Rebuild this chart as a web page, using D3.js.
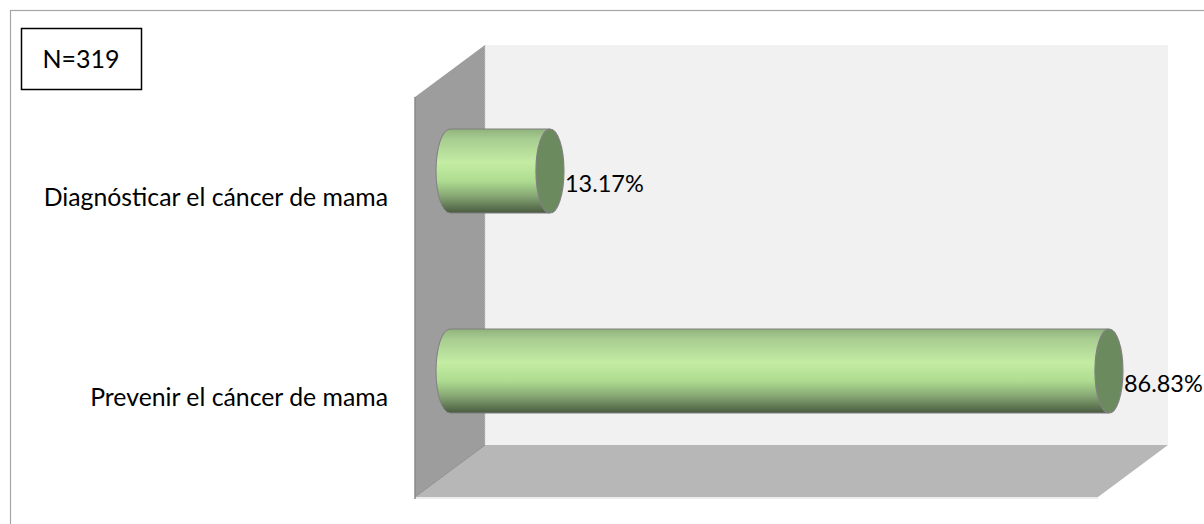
<!DOCTYPE html>
<meta charset="utf-8">
<html>
<head>
<style>
body {
  margin: 0;
  background: #fff;
  font-family: Lato, "Open Sans", sans-serif;
}
</style>
</head>
<body>
<div id="my_dataviz"></div>

<script src="https://d3js.org/d3.v7.min.js"></script>
<script>

// data
var categories = ["Diagnósticar el cáncer de mama", "Prevenir el cáncer de mama"];
var values = [13.17, 86.83];
var valueLabels = ["13.17%", "86.83%"];
var sampleLabel = "N=319";

var W = 1204, H = 524;
// 3d depth of the plot box (back is up-right)
var depthX = 70, depthY = 52;

var svg = d3.select("#my_dataviz")
  .append("svg")
    .attr("width", W)
    .attr("height", H);

// outer chart border (runs off the right / bottom)
svg.append("rect")
  .attr("x", 10.5).attr("y", 10.5)
  .attr("width", W).attr("height", H)
  .attr("fill", "none")
  .attr("stroke", "#a6a6a6")
  .attr("stroke-width", 1.2);

// scales at mid depth
var x = d3.scaleLinear()
  .domain([0, 90])
  .range([450, 1133]);

var y = d3.scaleBand()
  .domain(categories)
  .range([71, 471])
  .paddingInner(0.58)
  .paddingOuter(0.29);

var x0 = x(0), x1 = x(90);
var yTop = y.range()[0], yBot = y.range()[1];
var hx = depthX / 2, hy = depthY / 2;

// walls
var pts = function(a) { return a.map(function(p) { return p.join(","); }).join(" "); };

// back wall
svg.append("polygon")
  .attr("points", pts([[x0 + hx, yTop - hy], [x1 + hx, yTop - hy], [x1 + hx, yBot - hy], [x0 + hx, yBot - hy]]))
  .attr("fill", "#f1f1f1");

// floor
svg.append("polygon")
  .attr("points", pts([[x0 - hx, yBot + hy], [x0 + hx, yBot - hy], [x1 + hx, yBot - hy], [x1 - hx, yBot + hy]]))
  .attr("fill", "#b7b7b7");

svg.append("line")
  .attr("x1", x0 - hx).attr("x2", x1 - hx)
  .attr("y1", yBot + hy + 1).attr("y2", yBot + hy + 1)
  .attr("stroke", "#e6e6e6")
  .attr("stroke-width", 1.5);

// side wall
svg.append("polygon")
  .attr("points", pts([[x0 - hx, yTop + hy], [x0 + hx, yTop - hy], [x0 + hx, yBot - hy], [x0 - hx, yBot + hy]]))
  .attr("fill", "#9d9d9d");

svg.append("line")
  .attr("x1", x0 - hx).attr("x2", x0 - hx)
  .attr("y1", yTop + hy).attr("y2", yBot + hy + 2)
  .attr("stroke", "#8a8a8a")
  .attr("stroke-width", 1.5);

svg.append("line")
  .attr("x1", x0 + hx).attr("x2", x0 + hx)
  .attr("y1", yTop - hy).attr("y2", yBot - hy)
  .attr("stroke", "#c8c8c8")
  .attr("stroke-dasharray", "1,1")
  .attr("stroke-width", 1);

svg.append("line")
  .attr("x1", x0 - hx).attr("x2", x0 + hx)
  .attr("y1", yBot + hy).attr("y2", yBot - hy)
  .attr("stroke", "#8f8f8f")
  .attr("stroke-width", 1);

// gradient for the cylinders
var defs = svg.append("defs");
var grad = defs.append("linearGradient")
  .attr("id", "cyl")
  .attr("x1", 0).attr("y1", 0).attr("x2", 0).attr("y2", 1);
[[0, "#8fb27c"], [0.12, "#a8cd91"], [0.4, "#c4eca3"], [0.62, "#addc90"],
 [0.8, "#86a674"], [0.93, "#5e7651"], [1, "#4a5a41"]].forEach(function(s) {
  grad.append("stop").attr("offset", s[0]).attr("stop-color", s[1]);
});

var rx = 14;
var ry = y.bandwidth() / 2;

var bars = svg.selectAll(".bar")
  .data(categories)
  .enter()
  .append("g")
    .attr("class", "bar");

// body with rounded left end
bars.append("path")
  .attr("d", function(d, i) {
    var a = x(0), b = x(values[i]);
    var t = y(d), btm = y(d) + y.bandwidth();
    return "M" + a + "," + t + "L" + b + "," + t + "L" + b + "," + btm +
      "L" + a + "," + btm + "A" + rx + "," + ry + " 0 0 1 " + a + "," + t + "Z";
  })
  .attr("fill", "url(#cyl)")
  .attr("stroke", "#7f7f7f")
  .attr("stroke-width", 1);

// end cap
bars.append("ellipse")
  .attr("cx", function(d, i) { return x(values[i]); })
  .attr("cy", function(d) { return y(d) + y.bandwidth() / 2; })
  .attr("rx", rx)
  .attr("ry", ry)
  .attr("fill", "#6b8a5e")
  .attr("stroke", "#808080")
  .attr("stroke-width", 1.2);

// value labels
bars.append("text")
  .attr("x", function(d, i) { return x(values[i]) + rx + 1; })
  .attr("y", function(d) { return y(d) + y.bandwidth() / 2 + 13; })
  .attr("dy", "0.35em")
  .attr("fill", "#000")
  .style("font-size", "23.5px")
  .text(function(d, i) { return valueLabels[i]; });

// category labels at the front plane
svg.selectAll(".cat")
  .data(categories)
  .enter()
  .append("text")
    .attr("class", "cat")
    .attr("x", x0 - hx - 27)
    .attr("y", function(d) { return y(d) + y.bandwidth() / 2 + hy; })
    .attr("dy", "0.35em")
    .attr("text-anchor", "end")
    .attr("fill", "#000")
    .style("font-size", "24.8px")
    .text(function(d) { return d; });

// N box
svg.append("rect")
  .attr("x", 21.5).attr("y", 28.5)
  .attr("width", 120).attr("height", 61)
  .attr("fill", "#fff")
  .attr("stroke", "#000")
  .attr("stroke-width", 1.5);

svg.append("text")
  .attr("x", 81)
  .attr("y", 59)
  .attr("dy", "0.35em")
  .attr("text-anchor", "middle")
  .style("font-size", "25px")
  .text(sampleLabel);

</script>
</body>
</html>
